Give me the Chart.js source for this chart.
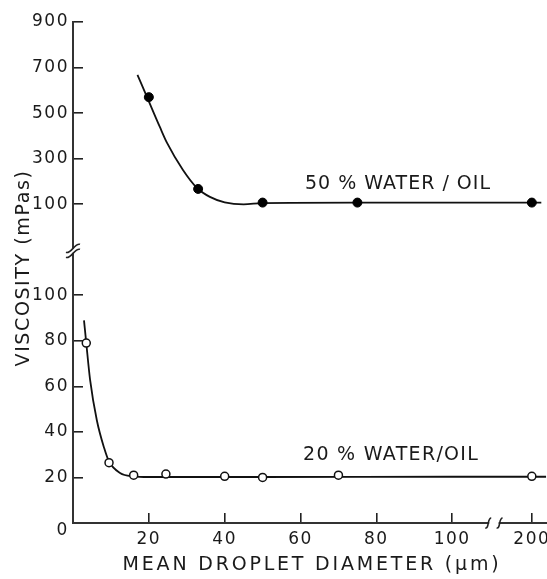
<!DOCTYPE html>
<html><head><meta charset="utf-8">
<script src="https://cdn.jsdelivr.net/npm/chart.js@4.4.1/dist/chart.umd.min.js"></script>
<style>html,body{margin:0;padding:0;background:#fff;}#wrap{width:547px;height:579px;}</style>
</head><body><div id="wrap"><canvas id="c"></canvas></div>
<script>
// ---- tick labels ----
const xTickValues = [20, 40, 60, 80, 100, 200];
const yLowerTicks = [20, 40, 60, 80, 100];
const yUpperTicks = [100, 300, 500, 700, 900];

// ---- 50 % water/oil (upper panel) ----
const w50PointsX = [20, 33, 50, 75, 200];
const w50PointsY = [570, 167, 107, 107, 107];
const w50CurveX = [17, 19.5, 22.9, 24.8, 29, 32.7, 36.1, 40, 45, 50, 75, 200, 210];
const w50CurveY = [668, 571, 439, 369, 250, 171, 132, 108, 99, 105, 107, 107, 107];

// ---- 20 % water/oil (lower panel) ----
const w20PointsX = [3.5, 9.5, 16, 24.5, 40, 50, 70, 200];
const w20PointsY = [79, 26.5, 21, 21.5, 20.5, 20, 21, 20.5];
const w20CurveX = [2.9, 3.5, 4.5, 6.3, 8.2, 9.5, 12.4, 15.8, 20, 50, 100, 200, 215];
const w20CurveY = [89, 79, 63, 45, 33, 27, 22, 20.5, 20.2, 20.2, 20.3, 20.3, 20.3];

// broken-axis mappings
function xPos(v) { return v <= 110 ? v : 121 + (v - 200) * 0.25; }
function yPos(v, upper) { return upper ? 140 + (v - 100) / 10 : v; }
function pts(xs, ys, upper) { return xs.map((x, i) => ({ x: xPos(x), y: yPos(ys[i], upper) })); }

const yTickPos = [...yLowerTicks.map(v => yPos(v, false)), ...yUpperTicks.map(v => yPos(v, true))];
const yTickLab = [...yLowerTicks, ...yUpperTicks].map(String);

Chart.defaults.font.family = "'DejaVu Sans', sans-serif";
Chart.defaults.font.size = 17;
Chart.defaults.color = '#1a1a1a';

const ink = '#111';

function noPad(s) { s.paddingLeft = 0; s.paddingRight = 0; s.paddingTop = 0; s.paddingBottom = 0; }

const decor = {
  id: 'decor',
  beforeDraw(chart) { chart.ctx.letterSpacing = '1.5px'; },
  afterDraw(chart) {
    const ctx = chart.ctx;
    const xs = chart.scales.x, ys = chart.scales.y;
    ctx.save();
    ctx.fillStyle = '#1a1a1a';
    ctx.textBaseline = 'middle';
    // series labels
    ctx.font = "19px 'DejaVu Sans'";
    ctx.letterSpacing = '1px';
    ctx.textAlign = 'left';
    ctx.fillText('50 % WATER / OIL', 305, 184);
    ctx.letterSpacing = '1.3px';
    ctx.fillText('20 % WATER/OIL', 303, 455);
    // x title
    ctx.letterSpacing = '2.8px';
    ctx.textAlign = 'center';
    ctx.fillText('MEAN DROPLET DIAMETER (\u03bcm)', 312, 565);
    // y title
    ctx.save();
    ctx.translate(24, 268);
    ctx.rotate(-Math.PI / 2);
    ctx.letterSpacing = '1.6px';
    ctx.fillText('VISCOSITY (mPas)', 0, 0);
    ctx.restore();
    // corner zero
    ctx.font = "17px 'DejaVu Sans'";
    ctx.letterSpacing = '0px';
    ctx.fillText('0', 62, 531);

    // x-axis break
    const yb = xs.top;
    const bx1 = xs.getPixelForValue(109.5), bx2 = xs.getPixelForValue(112.5);
    ctx.fillStyle = '#fff';
    ctx.fillRect(bx1 + 1, yb - 3, bx2 - bx1 - 2, 6);
    ctx.strokeStyle = '#222';
    ctx.lineWidth = 1.6;
    [bx1, bx2].forEach(bx => {
      ctx.beginPath();
      ctx.moveTo(bx - 3, yb + 5);
      ctx.bezierCurveTo(bx + 1, yb + 6, bx - 1, yb - 5, bx + 3, yb - 5);
      ctx.stroke();
    });
    // y-axis break
    const ax = ys.right;
    const byv = ys.getPixelForValue(119.5);
    ctx.fillStyle = '#fff';
    ctx.fillRect(ax - 2, byv - 2, 4, 4);
    [-2.5, 2.5].forEach(d => {
      ctx.beginPath();
      ctx.moveTo(ax - 7, byv + d + 4);
      ctx.bezierCurveTo(ax - 2, byv + d + 6, ax + 2, byv + d - 6, ax + 7, byv + d - 4);
      ctx.stroke();
    });
    ctx.restore();
    ctx.letterSpacing = '0px';
  }
};

new Chart(document.getElementById('c'), {
  type: 'scatter',
  data: {
    datasets: [
      { data: pts(w50PointsX, w50PointsY, true), pointRadius: 4.5, pointBackgroundColor: '#000', pointBorderColor: '#000', pointBorderWidth: 1, showLine: false },
      { data: pts(w20PointsX, w20PointsY, false), pointRadius: 4, pointBackgroundColor: '#fff', pointBorderColor: ink, pointBorderWidth: 1.5, showLine: false },
      { data: pts(w50CurveX, w50CurveY, true), showLine: true, pointRadius: 0, borderColor: ink, borderWidth: 1.8, cubicInterpolationMode: 'monotone', fill: false },
      { data: pts(w20CurveX, w20CurveY, false), showLine: true, pointRadius: 0, borderColor: ink, borderWidth: 1.8, cubicInterpolationMode: 'monotone', fill: false }
    ]
  },
  options: {
    responsive: true,
    maintainAspectRatio: false,
    animation: false,
    events: [],
    layout: { autoPadding: false, padding: { top: 22, right: 0, left: 0, bottom: 0 } },
    plugins: { legend: { display: false }, tooltip: { enabled: false } },
    scales: {
      x: {
        type: 'linear', min: 0, max: 125,
        afterBuildTicks: s => { s.ticks = xTickValues.map(v => ({ value: xPos(v) })); },
        afterFit: s => { s.height = 56; noPad(s); },
        ticks: { callback: (v, i) => String(xTickValues[i]), padding: 16, maxRotation: 0, autoSkip: false },
        grid: { drawOnChartArea: false, drawTicks: true, tickLength: -10, color: '#222', lineWidth: 1.6 },
        border: { color: '#333', width: 2 }
      },
      y: {
        type: 'linear', min: 0, max: 220,
        afterBuildTicks: s => { s.ticks = yTickPos.map(v => ({ value: v })); },
        afterFit: s => { s.width = 73; noPad(s); },
        ticks: { callback: (v, i) => yTickLab[i], padding: 14, autoSkip: false },
        grid: { drawOnChartArea: false, drawTicks: true, tickLength: -10, color: '#222', lineWidth: 1.6 },
        border: { color: '#333', width: 2 }
      }
    }
  },
  plugins: [decor]
});
</script></body></html>
